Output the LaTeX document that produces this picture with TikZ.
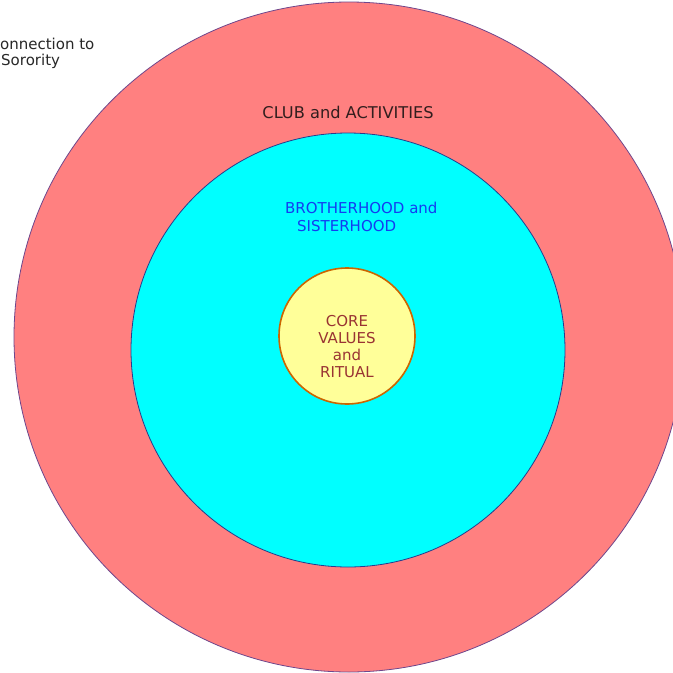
\documentclass[tikz,border=0pt]{standalone}
\usepackage{fontspec}
\setmainfont{DejaVu Sans}
\definecolor{outerfill}{RGB}{255,128,128}
\definecolor{outerline}{RGB}{110,70,140}
\definecolor{midfill}{RGB}{0,255,255}
\definecolor{midline}{RGB}{40,60,140}
\definecolor{corefill}{RGB}{255,255,153}
\definecolor{coreline}{RGB}{204,102,0}
\definecolor{coretext}{RGB}{153,51,51}
\definecolor{bluetext}{RGB}{20,60,240}
\definecolor{darktext}{RGB}{50,30,30}
\definecolor{greytext}{RGB}{40,40,40}
\begin{document}
\begin{tikzpicture}[x=1pt,y=-1pt,
  ring/.style={circle,inner sep=0pt,line width=0.8pt},
  lbl/.style={font=\fontsize{15}{17.3}\selectfont,inner sep=0pt}]
\useasboundingbox (0,0) rectangle (673,673);
\clip (0,0) rectangle (673,673);
\fill[white] (0,0) rectangle (673,673);
\node[ring,draw=outerline,fill=outerfill,minimum size=670pt] (outer) at (349,337) {};
\node[ring,draw=midline,fill=midfill,minimum size=434pt] (mid) at (348,350) {};
\node[ring,draw=coreline,fill=corefill,line width=1.6pt,minimum size=136pt] (core) at (347,336) {};
\node[lbl,text=coretext,align=center] (coretxt) at (347,346.5) {CORE\\VALUES\\and\\RITUAL};
\node[lbl,text=darktext,font=\fontsize{16.2}{18}\selectfont] (club) at (348,112) {CLUB and ACTIVITIES};
\node[lbl,text=bluetext,anchor=west] (broth) at (285,208) {BROTHERHOOD and};
\node[lbl,text=bluetext,anchor=west] (sist) at (297,226) {SISTERHOOD};
\node[lbl,text=greytext,anchor=west] (conn) at (-10.5,44) {Connection to};
\node[lbl,text=greytext,anchor=west] (soro) at (1,61) {Sorority};
\end{tikzpicture}
\end{document}
